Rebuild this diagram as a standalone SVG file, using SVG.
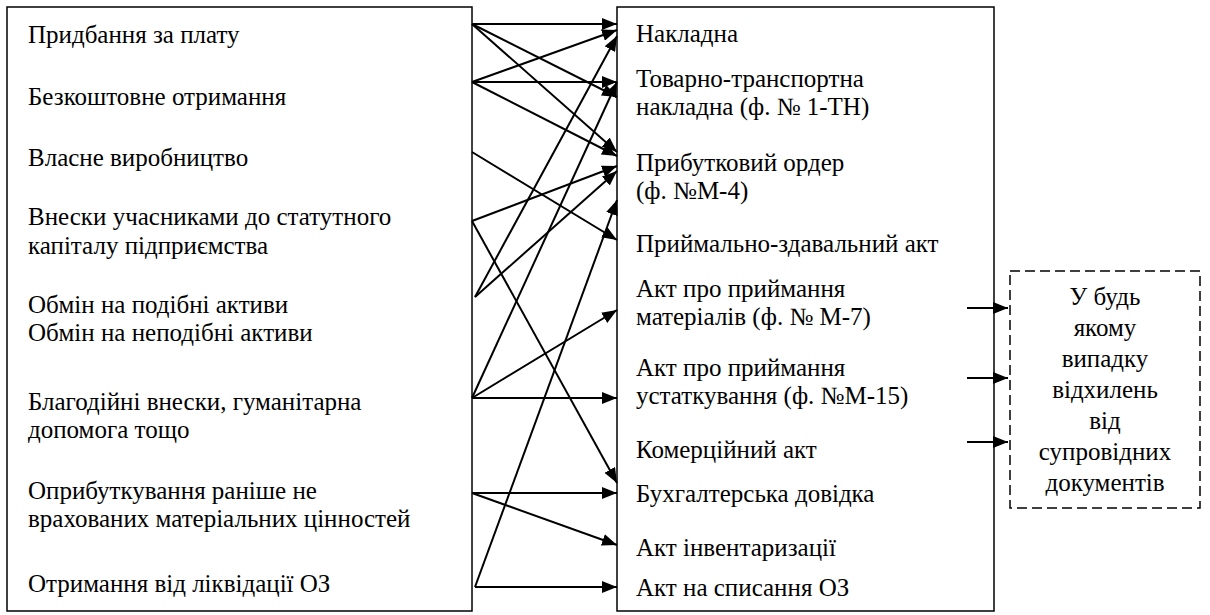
<svg xmlns="http://www.w3.org/2000/svg" width="1210" height="615" viewBox="0 0 1210 615">
<defs>
<marker id="ah" viewBox="0 0 15 12" refX="15" refY="6" markerWidth="15" markerHeight="12" markerUnits="userSpaceOnUse" orient="auto">
<path d="M0,0 L15,6 L0,12 z" fill="#000"/>
</marker>
</defs>
<style>
.box{fill:#fff;stroke:#000;stroke-width:1.5}
.dash{fill:#fff;stroke:#000;stroke-width:1.5;stroke-dasharray:10 5}
.t{font-family:"Liberation Serif","Times New Roman","DejaVu Serif",serif;font-size:25px;fill:#000}
.c{text-anchor:middle}
.con line{stroke:#000;stroke-width:2;marker-end:url(#ah)}
</style>
<rect width="1210" height="615" fill="#fff"/>
<g id="sources">
<rect class="box" x="7" y="7" width="465" height="604"/>
<text class="t" x="28" y="43">Придбання за плату</text>
<text class="t" x="28" y="105">Безкоштовне отримання</text>
<text class="t" x="28" y="166">Власне виробництво</text>
<text class="t" x="28" y="225">Внески учасниками до статутного</text>
<text class="t" x="28" y="254">капіталу підприємства</text>
<text class="t" x="28" y="313">Обмін на подібні активи</text>
<text class="t" x="28" y="341">Обмін на неподібні активи</text>
<text class="t" x="28" y="410">Благодійні внески, гуманітарна</text>
<text class="t" x="28" y="438">допомога тощо</text>
<text class="t" x="28" y="499">Оприбуткування раніше не</text>
<text class="t" x="28" y="527">врахованих матеріальних цінностей</text>
<text class="t" x="28" y="592">Отримання від ліквідації ОЗ</text>
</g>
<g id="documents">
<rect class="box" x="617" y="7" width="377" height="604"/>
<text class="t" x="636" y="42">Накладна</text>
<text class="t" x="636" y="87">Товарно-транспортна</text>
<text class="t" x="636" y="115">накладна (ф. № 1-ТН)</text>
<text class="t" x="636" y="171">Прибутковий ордер</text>
<text class="t" x="636" y="199">(ф. №М-4)</text>
<text class="t" x="636" y="252">Приймально-здавальний акт</text>
<text class="t" x="636" y="297">Акт про приймання</text>
<text class="t" x="636" y="325">матеріалів (ф. № М-7)</text>
<text class="t" x="636" y="376">Акт про приймання</text>
<text class="t" x="636" y="404">устаткування (ф. №М-15)</text>
<text class="t" x="636" y="458">Комерційний акт</text>
<text class="t" x="636" y="502">Бухгалтерська довідка</text>
<text class="t" x="636" y="556">Акт інвентаризації</text>
<text class="t" x="636" y="596">Акт на списання ОЗ</text>
</g>
<g id="deviation">
<rect class="dash" x="1010" y="271" width="190" height="237"/>
<text class="t c" x="1105" y="305">У будь</text>
<text class="t c" x="1105" y="336">якому</text>
<text class="t c" x="1105" y="367">випадку</text>
<text class="t c" x="1105" y="398">відхилень</text>
<text class="t c" x="1105" y="429">від</text>
<text class="t c" x="1105" y="460">супровідних</text>
<text class="t c" x="1105" y="491">документів</text>
</g>
<g id="connectors" class="con">
<line x1="472" y1="24" x2="617" y2="24"/>
<line x1="472" y1="24" x2="617" y2="97"/>
<line x1="472" y1="24" x2="617" y2="152"/>
<line x1="472" y1="82" x2="617" y2="30"/>
<line x1="472" y1="82" x2="617" y2="82"/>
<line x1="472" y1="82" x2="617" y2="156"/>
<line x1="472" y1="152" x2="617" y2="240"/>
<line x1="472" y1="221" x2="617" y2="166"/>
<line x1="472" y1="221" x2="617" y2="483"/>
<line x1="475" y1="297" x2="617" y2="36"/>
<line x1="475" y1="297" x2="617" y2="171"/>
<line x1="472" y1="398" x2="617" y2="82"/>
<line x1="472" y1="398" x2="617" y2="310"/>
<line x1="472" y1="398" x2="617" y2="398"/>
<line x1="472" y1="493" x2="617" y2="493"/>
<line x1="472" y1="493" x2="617" y2="545"/>
<line x1="475" y1="587" x2="617" y2="587"/>
<line x1="475" y1="587" x2="617" y2="200"/>
<line x1="967" y1="308" x2="1008" y2="308"/>
<line x1="967" y1="378" x2="1008" y2="378"/>
<line x1="967" y1="442" x2="1008" y2="442"/>
</g>
</svg>
